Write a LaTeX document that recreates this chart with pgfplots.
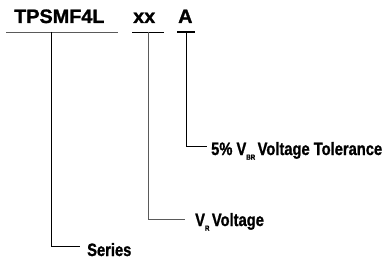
\documentclass[border=0pt]{standalone}
\usepackage{fontspec}
\setmainfont{Liberation Sans}[BoldFeatures={FakeBold=1.3}]
\usepackage{pgfplots}
\pgfplotsset{compat=1.18}
\definecolor{ln}{RGB}{90,90,90}
\newcommand{\sub}[1]{\raisebox{-0.5ex}{\fontsize{7.5}{7.5}\selectfont\bfseries #1}}
\newcommand{\toptext}[1]{\scalebox{1.02}[1]{\fontsize{19.5}{19.5}\bfseries #1}}
\newcommand{\lab}[1]{\scalebox{0.82}[1]{\fontsize{18}{18}\bfseries #1}}
\begin{document}
\begin{tikzpicture}
\begin{axis}[
  scale only axis, width=387bp, height=259bp,
  xmin=0, xmax=387, ymin=0, ymax=259, y dir=reverse,
  hide axis, clip=false,
  cycle list={{draw=ln, solid, line width=1.2bp, mark=none}},
]
% underlines
\addplot coordinates {(6,32) (118,32)};
\addplot coordinates {(132,32) (164,32)};
\addplot coordinates {(177,32) (195,32)};
% leaders
\addplot coordinates {(51,32) (51,246) (80,246)};
\addplot coordinates {(148,32) (148,219) (185,219)};
\addplot coordinates {(186,32) (186,146) (207,146)};
\node[anchor=base west, inner sep=0] at (axis cs:14,23) {\toptext{TPSMF4L}};
\node[anchor=base west, inner sep=0] at (axis cs:133,23) {\toptext{xx}};
\node[anchor=base west, inner sep=0] at (axis cs:178,23) {\toptext{A}};
\node[anchor=base west, inner sep=0] at (axis cs:211,155) {\lab{5\% V\sub{BR}\,Voltage Tolerance}};
\node[anchor=base west, inner sep=0] at (axis cs:195,226) {\lab{V\sub{R}\,Voltage}};
\node[anchor=base west, inner sep=0] at (axis cs:87,256) {\lab{Series}};
\end{axis}
\pgfresetboundingbox
\path[use as bounding box] (0,0) rectangle (387bp,259bp);
\end{tikzpicture}
\end{document}
